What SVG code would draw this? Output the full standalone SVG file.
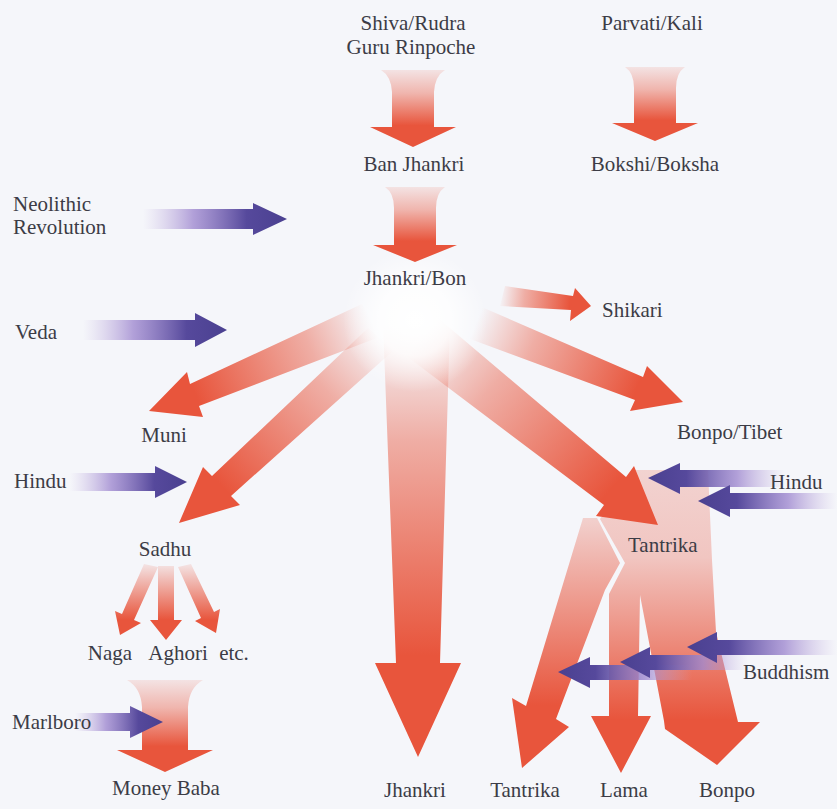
<svg xmlns="http://www.w3.org/2000/svg" width="837" height="809" viewBox="0 0 837 809">
<defs>
<style>
.t{font-size:21px;fill:#3c3c46}
.m{text-anchor:middle}
</style>
<linearGradient id="gV" x1="0" y1="0" x2="0" y2="1">
<stop offset="0" stop-color="#e8553c" stop-opacity="0.12"/>
<stop offset="0.3" stop-color="#e8553c" stop-opacity="0.4"/>
<stop offset="0.72" stop-color="#e8553c" stop-opacity="1"/>
</linearGradient>
<linearGradient id="rs">
<stop offset="0" stop-color="#e8553c" stop-opacity="0"/>
<stop offset="0.35" stop-color="#e8553c" stop-opacity="0.45"/>
<stop offset="1" stop-color="#e8553c" stop-opacity="1"/>
</linearGradient>
<linearGradient id="gJ" href="#rs" gradientUnits="userSpaceOnUse" x1="0" y1="325" x2="0" y2="655"/>
<linearGradient id="gMuni" href="#rs" gradientUnits="userSpaceOnUse" x1="372" y1="322" x2="196" y2="396"/>
<linearGradient id="gSadhu" href="#rs" gradientUnits="userSpaceOnUse" x1="382" y1="338" x2="222" y2="486"/>
<linearGradient id="gTan" href="#rs" gradientUnits="userSpaceOnUse" x1="428" y1="330" x2="612" y2="488"/>
<linearGradient id="gBon" href="#rs" gradientUnits="userSpaceOnUse" x1="478" y1="318" x2="638" y2="385"/>
<linearGradient id="gShik" href="#rs" gradientUnits="userSpaceOnUse" x1="500" y1="295" x2="570" y2="302"/>
<linearGradient id="gS" gradientUnits="userSpaceOnUse" x1="0" y1="560" x2="0" y2="620">
<stop offset="0" stop-color="#e8553c" stop-opacity="0.05"/>
<stop offset="1" stop-color="#e8553c" stop-opacity="1"/>
</linearGradient>
<linearGradient id="gL" gradientUnits="userSpaceOnUse" x1="0" y1="515" x2="0" y2="705">
<stop offset="0" stop-color="#e8553c" stop-opacity="0.22"/>
<stop offset="1" stop-color="#e8553c" stop-opacity="1"/>
</linearGradient>
<linearGradient id="gM" gradientUnits="userSpaceOnUse" x1="0" y1="470" x2="0" y2="720">
<stop offset="0" stop-color="#e8553c" stop-opacity="0.22"/>
<stop offset="0.35" stop-color="#e8553c" stop-opacity="0.3"/>
<stop offset="1" stop-color="#e8553c" stop-opacity="1"/>
</linearGradient>
<linearGradient id="pR" x1="0" y1="0" x2="1" y2="0">
<stop offset="0" stop-color="#c4b2e0" stop-opacity="0"/>
<stop offset="0.35" stop-color="#a08ad0" stop-opacity="0.8"/>
<stop offset="0.72" stop-color="#56499c" stop-opacity="1"/>
<stop offset="1" stop-color="#4a4090" stop-opacity="1"/>
</linearGradient>
<linearGradient id="pL" href="#pR" x1="1" y1="0" x2="0" y2="0"/>
<radialGradient id="glow" gradientUnits="userSpaceOnUse" cx="415" cy="320" r="72">
<stop offset="0" stop-color="#ffffff" stop-opacity="1"/>
<stop offset="0.5" stop-color="#ffffff" stop-opacity="0.8"/>
<stop offset="1" stop-color="#ffffff" stop-opacity="0"/>
</radialGradient>
</defs>
<rect x="0" y="0" width="837" height="809" fill="#f5f6fa"/>

<g id="connectors">
<path d="M583,518 L597,518 L620,563 L605,590 L556,719 L569,727 L522,768 L512,698 L526,706 Z" fill="url(#gL)"/>
<path d="M600,519 L636,470 L708,470 L712,560 L716,632 L738,722 L760,722 L717,765 L665,729 L664,721 L640,595 L638,716 L651,716 L621,773 L591,716 L609,716 L609,594 L625,563 Z" fill="url(#gM)"/>

<path d="M381,70 L445,70 Q435,76 434,92 L434,127 L456,127 L413,147 L370,127 L392,127 L392,92 Q391,76 381,70 Z" fill="url(#gV)"/>
<path d="M625,67 L685,67 Q676,73 676,88 L676,123 L698,123 L655,141 L612,123 L634,123 L634,88 Q634,73 625,67 Z" fill="url(#gV)"/>

<path d="M383,322 L450,322 L440,663 L461,663 L418,757 L375,663 L396,663 Z" fill="url(#gJ)"/>
<path d="M362,304 L190,384 L187,372 L149,411 L203,417 L199,406 L382,336 Z" fill="url(#gMuni)"/>
<path d="M368,328 L212,476 L203,467 L179,523 L240,505 L231,496 L394,350 Z" fill="url(#gSadhu)"/>
<path d="M438,318 L626,477 L634,466 L658,525 L596,516 L604,505 L405,355 Z" fill="url(#gTan)"/>
<path d="M470,302 L643,377 L647,366 L683,402 L630,411 L635,400 L462,336 Z" fill="url(#gBon)"/>
<path d="M505,286 L573,296 L575,288 L591,306 L570,321 L571,310 L500,306 Z" fill="url(#gShik)"/>
<rect x="330" y="240" width="170" height="160" fill="url(#glow)"/>

<path d="M385,187 L445,187 Q436,193 436,208 L436,245 L457,245 L415,262 L373,245 L394,245 L394,208 Q394,193 385,187 Z" fill="url(#gV)"/>

<path d="M144,564 L158,567 L134,620 L141,623 L120,635 L115,611 L122,614 Z" fill="url(#gS)"/>
<path d="M158,566 L174,566 L174,620 L182,620 L166,640 L150,620 L158,620 Z" fill="url(#gS)"/>
<path d="M178,567 L191,564 L214,612 L220,609 L216,633 L195,621 L201,618 Z" fill="url(#gS)"/>

<path d="M127,680 L203,680 Q189,688 188,707 L188,750 L213,750 L165,772 L117,750 L142,750 L142,707 Q141,688 127,680 Z" fill="url(#gV)"/>

<path d="M143,209 L253,209 L253,203 L287,219 L253,235 L253,229 L143,229 Z" fill="url(#pR)"/>
<path d="M83,320 L195,320 L195,313 L227,330 L195,347 L195,340 L83,340 Z" fill="url(#pR)"/>
<path d="M70,473 L155,473 L155,466 L187,482 L155,498 L155,491 L70,491 Z" fill="url(#pR)"/>
<path d="M75,713 L130,713 L130,706 L163,722 L130,738 L130,731 L75,731 Z" fill="url(#pR)"/>

<path d="M785,470 L680,470 L680,463 L648,478 L680,494 L680,487 L785,487 Z" fill="url(#pL)"/>
<path d="M837,493 L730,493 L730,485 L698,501 L730,517 L730,509 L837,509 Z" fill="url(#pL)"/>
<path d="M692,665 L590,665 L590,657 L558,672 L590,688 L590,680 L692,680 Z" fill="url(#pL)"/>
<path d="M748,655 L650,655 L650,647 L620,662 L650,678 L650,670 L748,670 Z" fill="url(#pL)"/>
<path d="M837,640 L717,640 L717,632 L687,647 L717,663 L717,655 L837,655 Z" fill="url(#pL)"/>
</g>

<g id="labels" font-family="Liberation Serif, Times New Roman, serif">
<g id="n-shiva"><text class="t m" x="413" y="30">Shiva/Rudra</text><text class="t m" x="411" y="54">Guru Rinpoche</text></g>
<g id="n-parvati"><text class="t m" x="652" y="30">Parvati/Kali</text></g>
<g id="n-banjhankri"><text class="t m" x="414" y="171">Ban Jhankri</text></g>
<g id="n-bokshi"><text class="t m" x="655" y="171">Bokshi/Boksha</text></g>
<g id="n-neolithic"><text class="t" x="13" y="211">Neolithic</text><text class="t" x="13" y="234">Revolution</text></g>
<g id="n-jhankribon"><text class="t m" x="415" y="285">Jhankri/Bon</text></g>
<g id="n-veda"><text class="t" x="15" y="339">Veda</text></g>
<g id="n-shikari"><text class="t" x="602" y="317">Shikari</text></g>
<g id="n-muni"><text class="t m" x="164" y="442">Muni</text></g>
<g id="n-bonpotibet"><text class="t" x="677" y="439">Bonpo/Tibet</text></g>
<g id="n-hindu-left"><text class="t" x="14" y="488">Hindu</text></g>
<g id="n-hindu-right"><text class="t" x="770" y="489">Hindu</text></g>
<g id="n-sadhu"><text class="t m" x="165" y="556">Sadhu</text></g>
<g id="n-tantrika-mid"><text class="t" x="628" y="552">Tantrika</text></g>
<g id="n-naga"><text class="t m" x="110" y="660">Naga</text></g>
<g id="n-aghori"><text class="t m" x="178" y="660">Aghori</text></g>
<g id="n-etc"><text class="t m" x="234" y="660">etc.</text></g>
<g id="n-buddhism"><text class="t" x="743" y="679">Buddhism</text></g>
<g id="n-marlboro"><text class="t" x="12" y="729">Marlboro</text></g>
<g id="n-moneybaba"><text class="t m" x="166" y="795">Money Baba</text></g>
<g id="n-jhankri"><text class="t m" x="415" y="797">Jhankri</text></g>
<g id="n-tantrika"><text class="t m" x="525" y="797">Tantrika</text></g>
<g id="n-lama"><text class="t m" x="624" y="797">Lama</text></g>
<g id="n-bonpo"><text class="t m" x="727" y="797">Bonpo</text></g>
</g>
</svg>
